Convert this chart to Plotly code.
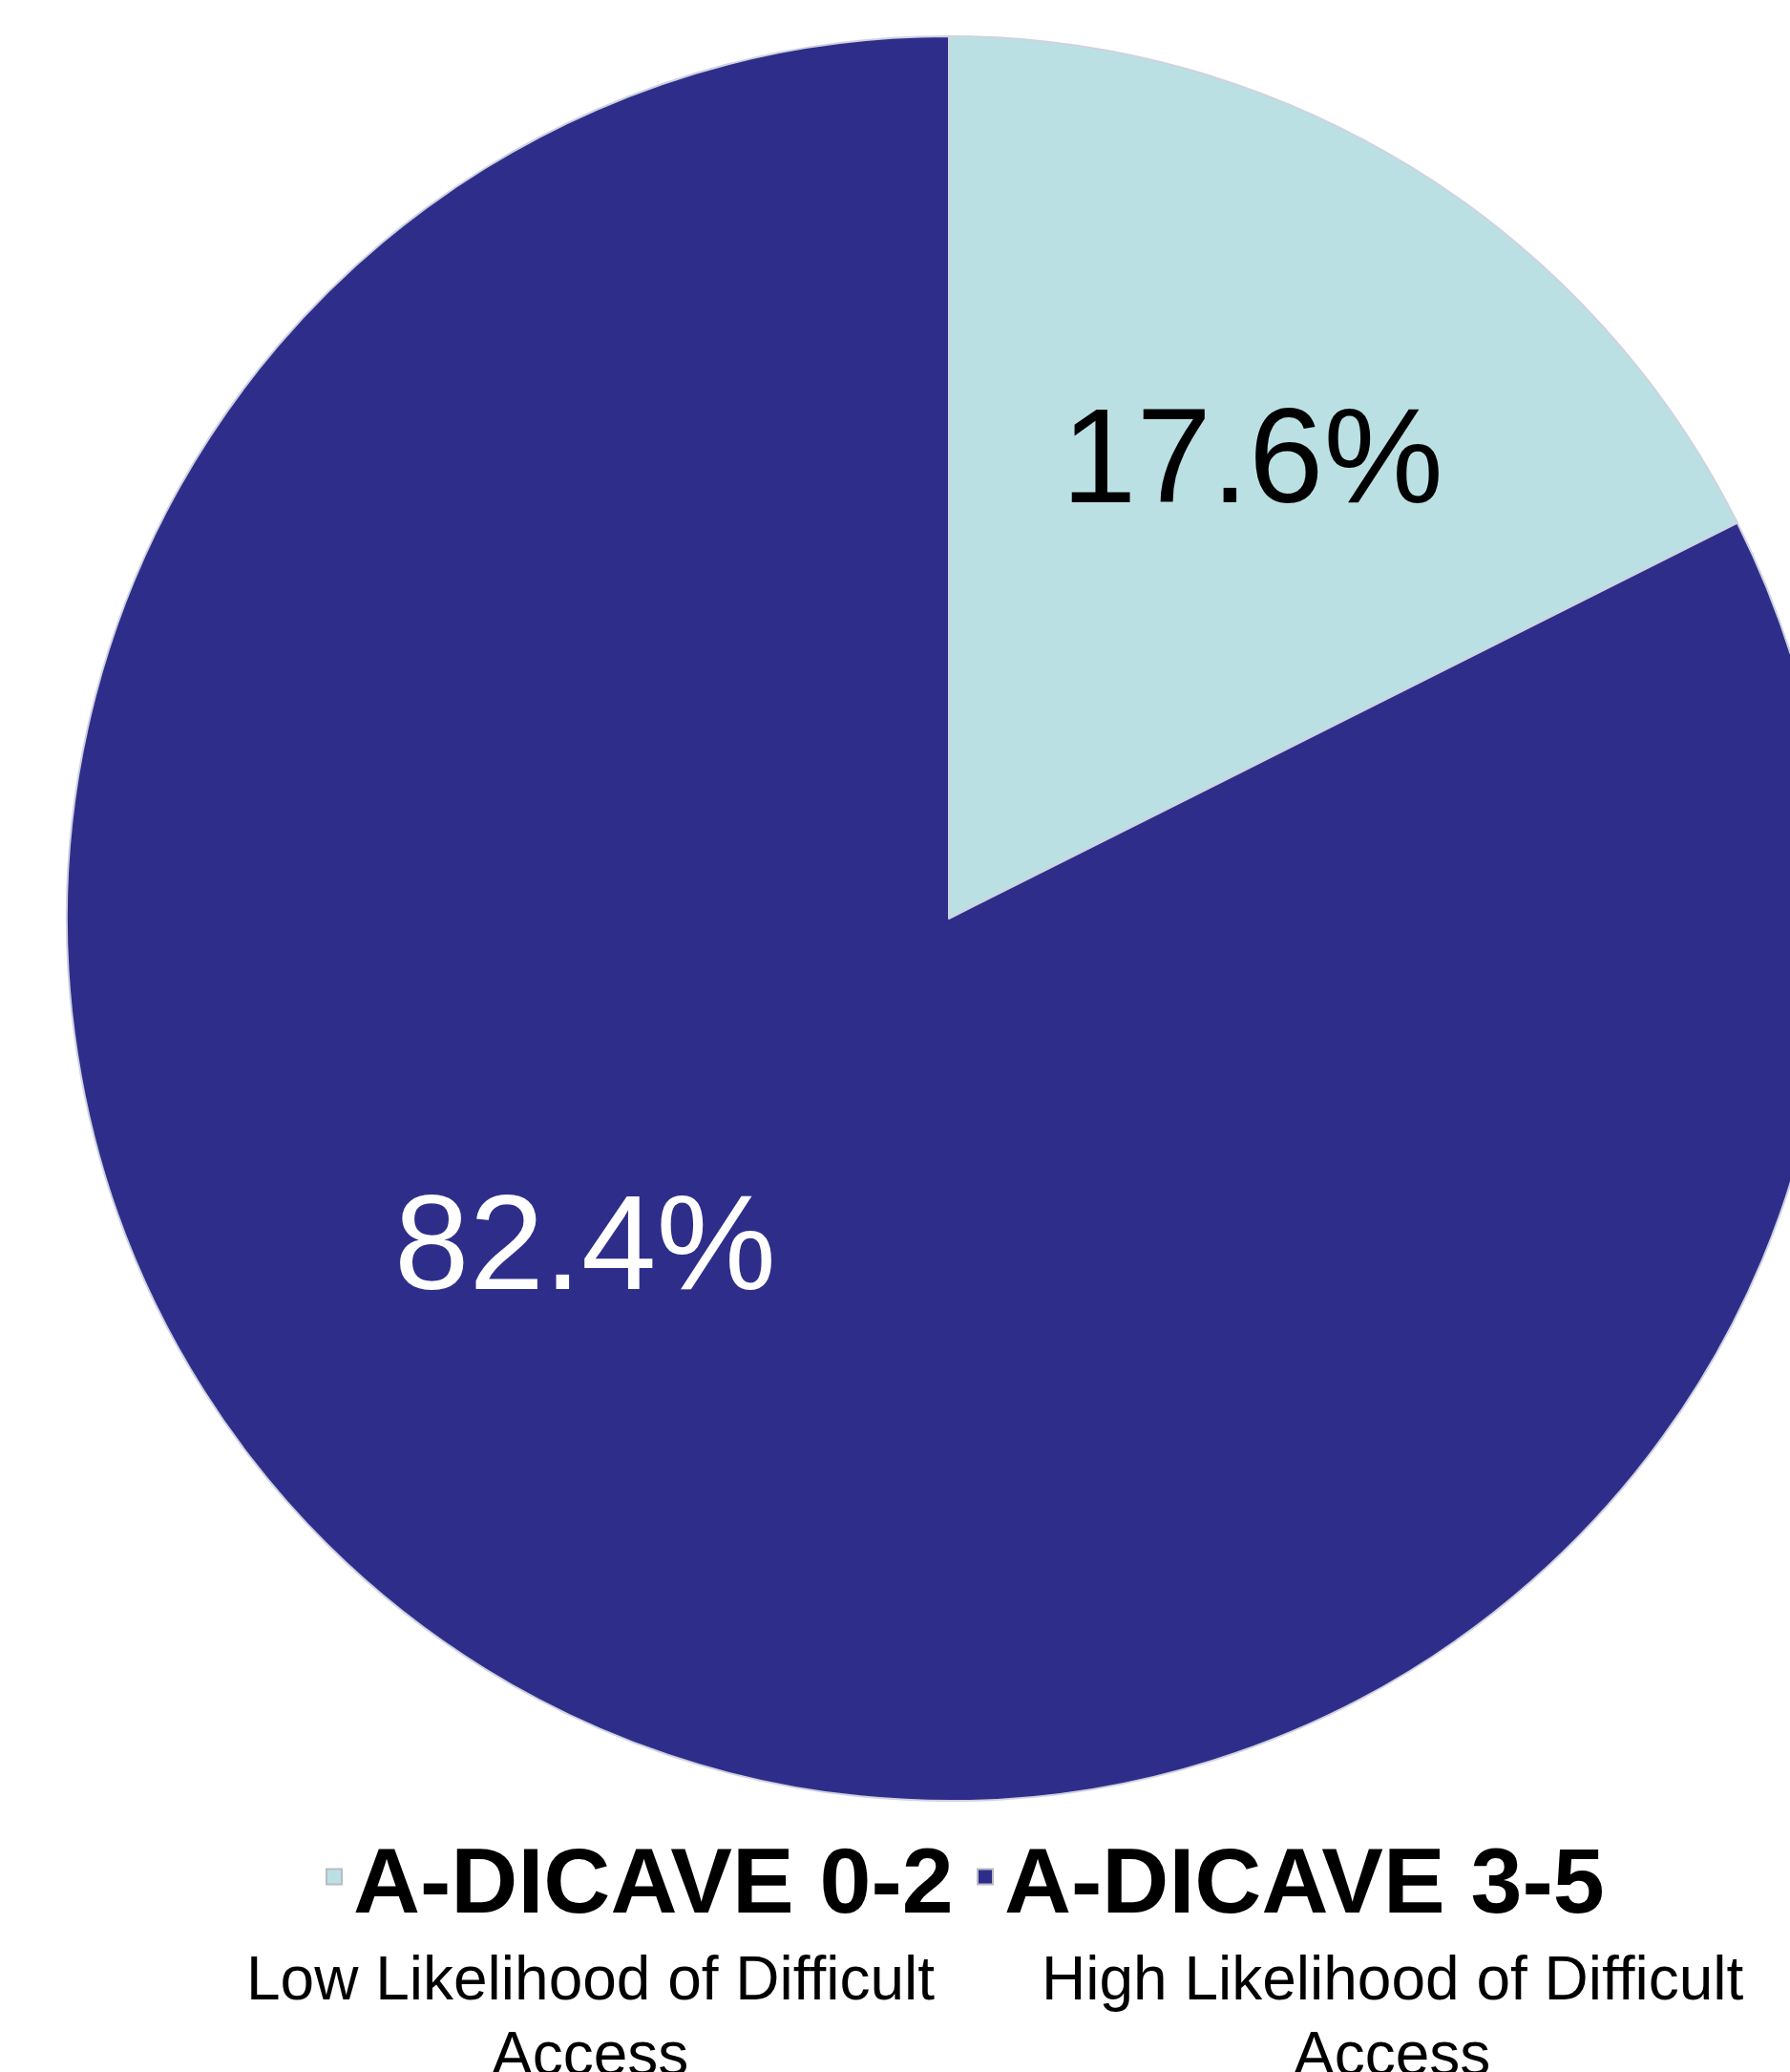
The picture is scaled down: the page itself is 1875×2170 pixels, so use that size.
import math
import plotly.graph_objects as go

categories = ["A-DICAVE 0-2", "A-DICAVE 3-5"]
sublabels = [["Low Likelihood of Difficult", "Access"],
             ["High Likelihood of Difficult", "Access"]]
values = [17.6, 82.4]
colors = ["#BBE0E3", "#2E2E8A"]
text_colors = ["#000000", "#FFFFFF"]

W, H = 2100, 2170
FONT = "Liberation Sans, Arial, sans-serif"

# pie geometry (pixels)
CX, CY, R = 994, 962, 924
# label placement: radial fraction and angular shift from slice middle
label_rfrac = [0.628, 0.552]
label_shift_deg = [1.6, 16.6]

fig = go.Figure()
fig.add_trace(go.Pie(
    labels=categories,
    values=values,
    sort=False,
    direction="clockwise",
    rotation=0,
    marker=dict(colors=colors, line=dict(color="#CFD2E0", width=2)),
    textinfo="none",
    domain=dict(x=[(CX - R) / W, (CX + R) / W], y=[(H - CY - R) / H, (H - CY + R) / H]),
    hoverinfo="label+percent",
    showlegend=False,
))

# legend entries (square symbols)
for c, col in zip(categories, colors):
    fig.add_trace(go.Scatter(
        x=[None], y=[None], mode="markers", name="<b>%s</b>" % c,
        marker=dict(symbol="square", size=16, color=col,
                    line=dict(color="#B8BCC4", width=2)),
        hoverinfo="skip",
    ))

# percentage labels derived from values
total = sum(values)
cum = 0.0
for v, tc, rf, sh in zip(values, text_colors, label_rfrac, label_shift_deg):
    mid = (cum + v / 2) / total * 360 + sh
    cum += v
    a = math.radians(mid)
    px = CX + rf * R * math.sin(a)
    py = CY - rf * R * math.cos(a)
    fig.add_annotation(
        x=px / W, y=1 - py / H, xref="paper", yref="paper",
        text="%.1f%%" % v, showarrow=False, xanchor="center", yanchor="middle",
        font=dict(family=FONT, size=141, color=tc),
    )

# sub-labels under the legend entries
sub_x = [618, 1458]
line_y = [2072, 2151]
for sx, lines in zip(sub_x, sublabels):
    for ly, t in zip(line_y, lines):
        fig.add_annotation(
            x=sx / W, y=1 - ly / H, xref="paper", yref="paper",
            text=t, showarrow=False, xanchor="center", yanchor="middle",
            font=dict(family=FONT, size=64, color="#000000"),
        )

# title fragment (mostly outside the visible area)
fig.add_annotation(
    x=1642 / W, y=1 - 2 / H, xref="paper", yref="paper",
    text="<b>(%)</b>", showarrow=False, xanchor="center", yanchor="bottom",
    font=dict(family=FONT, size=110, color="#000000"),
)

fig.update_layout(
    width=W, height=H,
    margin=dict(l=0, r=0, t=0, b=0),
    paper_bgcolor="white",
    plot_bgcolor="white",
    xaxis=dict(visible=False),
    yaxis=dict(visible=False),
    showlegend=True,
    legend=dict(
        orientation="h",
        x=330 / W, xanchor="left",
        y=1 - 1896 / H, yanchor="top",
        font=dict(family=FONT, size=97, color="#000000"),
        entrywidth=637, entrywidthmode="pixels",
        itemclick=False, itemdoubleclick=False,
        traceorder="normal",
    ),
)

fig.write_html(
    "out.html",
    config={"displayModeBar": False},
    post_script="document.body.style.margin='0';document.body.style.overflow='hidden';document.documentElement.style.overflow='hidden';",
)
